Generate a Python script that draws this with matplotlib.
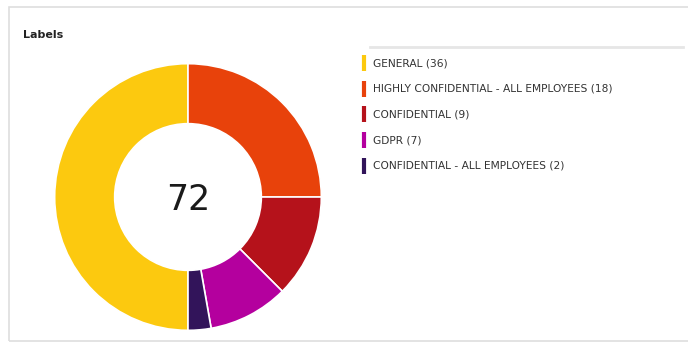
import matplotlib.pyplot as plt
from matplotlib.patches import Rectangle
from matplotlib.lines import Line2D

# Label counts, in legend order
labels = ["GENERAL", "HIGHLY CONFIDENTIAL - ALL EMPLOYEES", "CONFIDENTIAL",
          "GDPR", "CONFIDENTIAL - ALL EMPLOYEES"]
counts = [36, 18, 9, 7, 2]
colors = ["#FCC90F", "#E8420B", "#B5121B", "#B4009E", "#32145A"]

total = sum(counts)

fig = plt.figure(figsize=(6.88, 3.44), dpi=100)
fig.patch.set_facecolor("white")

# card outline
fig.patches.append(Rectangle((9 / 688, 1 - 341 / 344), 700 / 688, 334 / 344,
                             transform=fig.transFigure, fill=False,
                             edgecolor="#dedede", linewidth=1.2))
fig.text(23 / 688, 1 - 35 / 344, "Labels", fontsize=8, fontweight="bold",
         color="#222222", va="center", ha="left")

# donut
ax = fig.add_axes([(188 - 134) / 688, 1 - (197 + 134) / 344, 268 / 688, 268 / 344])
ax.pie(counts, colors=colors, startangle=-90, counterclock=False, radius=1.0,
       wedgeprops=dict(width=0.45, edgecolor="white", linewidth=1.2))
ax.set_aspect("equal")
ax.set_xlim(-1.005, 1.005)
ax.set_ylim(-1.005, 1.005)
ax.text(0, -0.02, str(total), fontsize=25, ha="center", va="center",
        color="#1a1a1a", fontweight="medium")

# divider above the legend
fig.add_artist(Line2D([370 / 688, 683 / 688], [1 - 47 / 344, 1 - 47 / 344],
                      transform=fig.transFigure, color="#e6e6e6", linewidth=2))

# legend with colour bars
y0 = 63
step = 25.7
for i, (lab, n, c) in enumerate(zip(labels, counts, colors)):
    y = 1 - (y0 + i * step) / 344
    fig.add_artist(Line2D([364 / 688, 364 / 688], [y - 8 / 344, y + 8 / 344],
                          transform=fig.transFigure, color=c, linewidth=3,
                          solid_capstyle="butt"))
    fig.text(373 / 688, y, f"{lab} ({n})", fontsize=7.7, color="#333333",
             va="center", ha="left")

fig.savefig("out.png", dpi=100)
